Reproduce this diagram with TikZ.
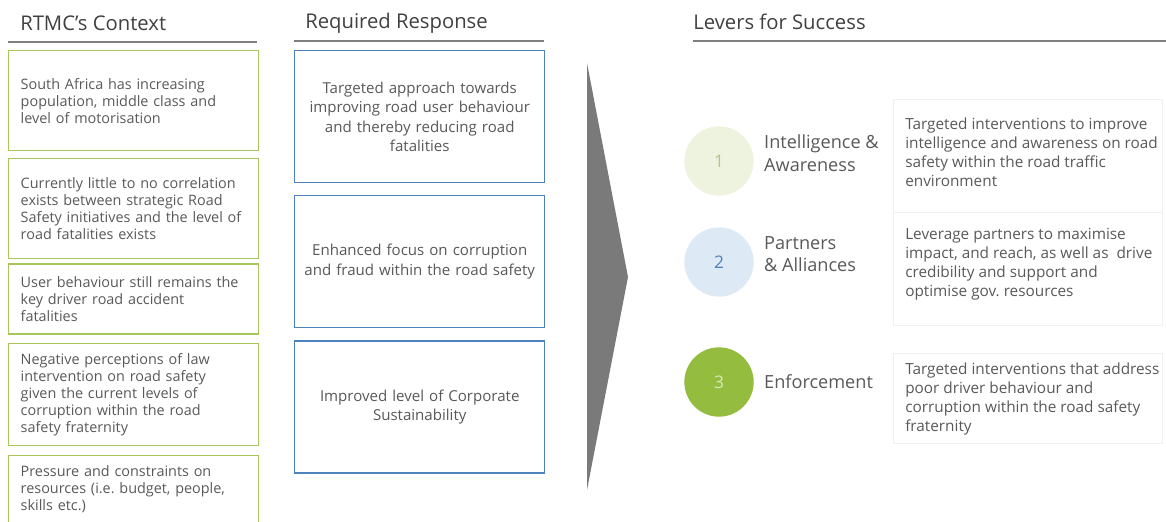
\documentclass[tikz,border=0pt]{standalone}
\usepackage{fontspec}
\setmainfont{Open Sans}
\usepackage{tikz}
\usetikzlibrary{positioning}

\definecolor{txtgray}{HTML}{595959}
\definecolor{headgray}{HTML}{404040}
\definecolor{rulegray}{HTML}{7F7F7F}
\definecolor{ctxgreen}{HTML}{A8C65E}
\definecolor{respblue}{HTML}{4F81BD}
\definecolor{lvlonefill}{HTML}{EEF3DF}
\definecolor{lvlonetxt}{HTML}{AFC58A}
\definecolor{lvltwofill}{HTML}{DDEAF6}
\definecolor{lvlthreefill}{HTML}{94BC3F}
\definecolor{lvlthreetxt}{HTML}{D9E6BC}
\definecolor{arrowgray}{HTML}{7A7A7A}

\begin{document}
\begin{tikzpicture}[x=0.75pt,y=-0.75pt,
  every node/.style={text=txtgray},
  head/.style={font=\fontsize{15.2}{17}\selectfont,text=headgray,anchor=base west,inner sep=0pt},
  head rule/.style={draw=rulegray,line width=1.5pt},
  ctx box/.style={draw=ctxgreen,line width=1.1pt,text width=169.5pt,inner xsep=9pt,inner ysep=2pt,
    align=left,font=\fontsize{10.8}{12.75}\selectfont},
  resp box/.style={draw=respblue,line width=1.1pt,fill=white,text width=175pt,inner xsep=6.25pt,
    minimum height=99pt,align=center,font=\fontsize{11.3}{14.5}\selectfont},
  lever circle/.style={circle,minimum size=52pt,inner sep=0pt,font=\fontsize{13}{15}\selectfont},
  lever label/.style={align=left,inner sep=0pt,font=\fontsize{13.6}{17}\selectfont},
  lever desc/.style={align=left,inner sep=0pt,anchor=west,font=\fontsize{11.5}{14.25}\selectfont},
  desc frame/.style={draw=black!6,line width=0.5pt}]

  \useasboundingbox (0,0) rectangle (1166,521);

  \node[head] (h1) at (20,31) {RTMC's Context};
  \node[head] (h2) at (305,28) {Required Response};
  \node[head] (h3) at (693,29) {Levers for Success};
  \draw[head rule] (8,42) -- (257,42);
  \draw[head rule] (294,41) -- (544,41);
  \draw[head rule] (693,41) -- (1166,41);

  \node[ctx box,minimum height=75pt,anchor=north west] (c1) at (8,50)
    {South Africa has increasing\\population, middle class and\\level of motorisation};
  \node[ctx box,minimum height=75pt,below=4.8pt of c1] (c2)
    {Currently little to no correlation\\exists between strategic Road\\Safety initiatives and the level of\\road fatalities exists};
  \node[ctx box,minimum height=52.5pt,below=2.8pt of c2] (c3)
    {User behaviour still remains the\\key driver road accident\\fatalities};
  \node[ctx box,minimum height=76.5pt,below=6.3pt of c3] (c4)
    {Negative perceptions of law\\intervention on road safety\\given the current levels of\\corruption within the road\\safety fraternity};
  \node[ctx box,minimum height=51pt,below=6.3pt of c4] (c5)
    {Pressure and constraints on\\resources (i.e.\ budget, people,\\skills etc.)};

  \node[resp box,anchor=north west] (r1) at (294,50)
    {Targeted approach towards\\improving road user behaviour\\and thereby reducing road\\fatalities};
  \node[resp box,below=8.5pt of r1] (r2)
    {Enhanced focus on corruption\\and fraud within the road safety};
  \node[resp box,below=9pt of r2] (r3)
    {Improved level of Corporate\\Sustainability};

  \fill[arrowgray] (587,63) -- (628,277) -- (587,490) -- cycle;

  \draw[desc frame] (893,99) rectangle (1162,212);
  \draw[desc frame] (893,212) rectangle (1162,325);
  \draw[desc frame] (893,353) rectangle (1162,443);

  \node[lever circle,fill=lvlonefill,text=lvlonetxt] (l1) at (719,161) {1};
  \node[lever circle,fill=lvltwofill,text=respblue] (l2) at (719,262) {2};
  \node[lever circle,fill=lvlthreefill,text=lvlthreetxt] (l3) at (719,382) {3};

  \node[lever label,anchor=west,right=7.5pt of l1,yshift=6pt] (n1) {Intelligence \&\\Awareness};
  \node[lever label,anchor=west,right=7.5pt of l2,yshift=6pt] (n2) {Partners\\\& Alliances};
  \node[lever label,anchor=west,right=7.5pt of l3] (n3) {Enforcement};

  \node[lever desc] (d1) at (905,152)
    {Targeted interventions to improve\\intelligence and awareness on road\\safety within the road traffic\\environment};
  \node[lever desc] (d2) at (905,264)
    {Leverage partners to maximise\\impact, and reach, as well as \ drive\\credibility and support and\\optimise gov.\ resources};
  \node[lever desc] (d3) at (905,399)
    {Targeted interventions that address\\poor driver behaviour and\\corruption within the road safety\\fraternity};

\end{tikzpicture}
\end{document}
